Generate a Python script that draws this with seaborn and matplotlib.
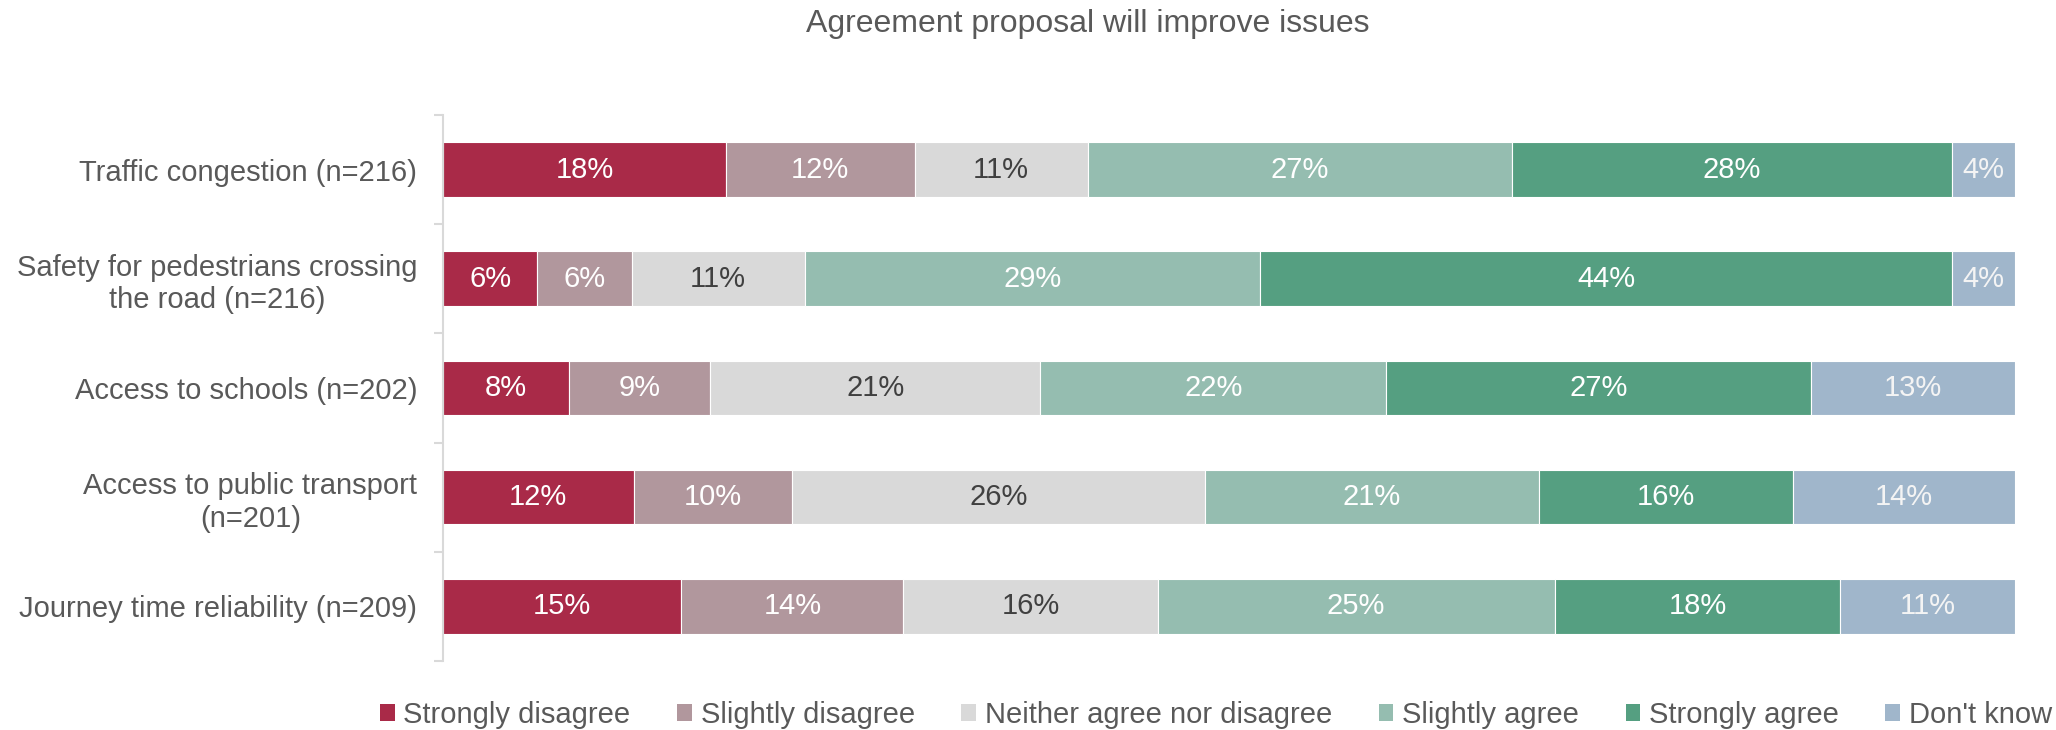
import numpy as np
import pandas as pd
import seaborn as sns
import matplotlib.pyplot as plt
from matplotlib.patches import Patch
from matplotlib.ticker import FixedLocator

# Survey items (y axis, top to bottom)
categories = [
    "Traffic congestion (n=216)",
    "Safety for pedestrians crossing\nthe road (n=216)",
    "Access to schools (n=202)",
    "Access to public transport\n(n=201)",
    "Journey time reliability (n=209)",
]

# Response options and their shares (%)
responses = ["Strongly disagree", "Slightly disagree", "Neither agree nor disagree",
             "Slightly agree", "Strongly agree", "Don't know"]
strongly_disagree = [18, 6, 8, 12, 15]
slightly_disagree = [12, 6, 9, 10, 14]
neither = [11, 11, 21, 26, 16]
slightly_agree = [27, 29, 22, 21, 25]
strongly_agree = [28, 44, 27, 16, 18]
dont_know = [4, 4, 13, 14, 11]

colors = ["#A92A48", "#B1979D", "#D9D9D9", "#95BDB0", "#559F81", "#A0B6CB"]
label_colors = ["white", "white", "#404040", "white", "white", "#F4F4F4"]

series = [strongly_disagree, slightly_disagree, neither,
          slightly_agree, strongly_agree, dont_know]
values = np.array(series, dtype=float)          # shape (responses, categories)
shares = values / values.sum(axis=0) * 100        # 100% stacked

sns.set_theme(style="white")
plt.rcParams["font.family"] = ["Liberation Sans", "DejaVu Sans"]

fig = plt.figure(figsize=(20.56, 7.30), dpi=100)
ax = fig.add_axes([443 / 2056, 1 - 661 / 730, (2015 - 443) / 2056, (661 - 115) / 730])

left = np.zeros(len(categories))
for i, resp in enumerate(responses):
    df = pd.DataFrame({"item": categories, "share": shares[i]})
    sns.barplot(data=df, y="item", x="share", orient="h", color=colors[i],
                width=0.5, left=left, edgecolor="white", linewidth=0.8,
                saturation=1, ax=ax)
    for j in range(len(categories)):
        ax.text(left[j] + shares[i][j] / 2, j, f"{series[i][j]}%",
                ha="center", va="center", fontsize=21, color=label_colors[i])
    left = left + shares[i]

ax.set_xlim(0, 100)
ax.set_ylim(len(categories) - 0.5, -0.5)
ax.set_xlabel("")
ax.set_ylabel("")
ax.set_xticks([])

for side in ["top", "right", "bottom"]:
    ax.spines[side].set_visible(False)
ax.spines["left"].set_color("#D9D9D9")
ax.spines["left"].set_linewidth(1.5)

ax.yaxis.set_minor_locator(FixedLocator(np.arange(-0.5, len(categories), 1.0)))
ax.tick_params(axis="y", which="major", length=0, pad=18.5,
               labelsize=21, labelcolor="#595959")
ax.tick_params(axis="y", which="minor", length=6.5, width=1.5,
               color="#D9D9D9", left=True)
for lbl in ax.get_yticklabels():
    lbl.set_multialignment("center")

fig.text(1088 / 2056, 1 - 24 / 730, "Agreement proposal will improve issues",
         ha="center", va="center", fontsize=23, color="#595959")

handles = [Patch(facecolor=c, edgecolor="none") for c in colors]
fig.legend(handles, responses, loc="center",
           bbox_to_anchor=(1216 / 2056, 1 - 715 / 730), ncol=6, frameon=False,
           fontsize=21, labelcolor="#595959", handlelength=0.5, handleheight=0.5,
           handletextpad=0.3, columnspacing=1.6, borderaxespad=0, borderpad=0)

fig.savefig("out.png", dpi=100)
